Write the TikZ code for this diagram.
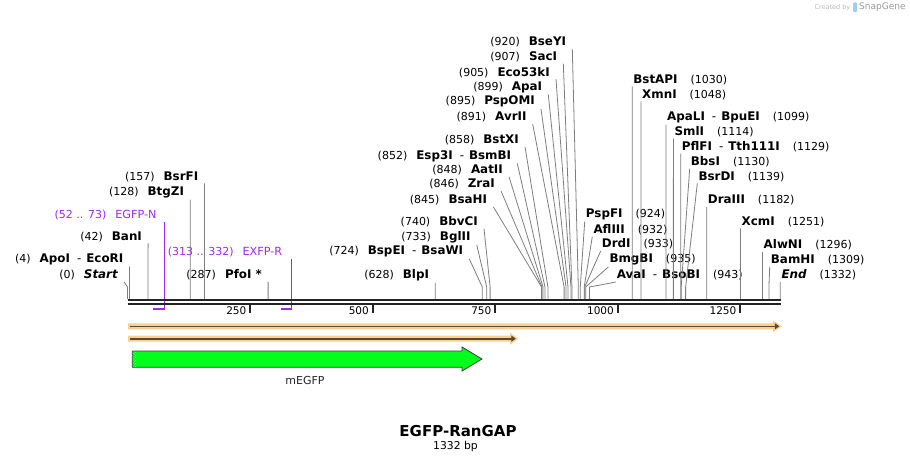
\documentclass[tikz,border=0pt]{standalone}
\usepackage{fontspec}
\setmainfont{DejaVu Sans}
\usepackage{xcolor}
\usepackage{tikz}
\usetikzlibrary{calc, arrows.meta}

\definecolor{cutgray}{RGB}{125,125,125}
\definecolor{primerc}{RGB}{160,40,240}
\definecolor{rulerc}{RGB}{35,35,35}
\definecolor{featband}{RGB}{252,208,140}
\definecolor{featline}{RGB}{88,74,56}
\definecolor{egfpgreen}{RGB}{0,255,26}
\definecolor{featborder}{RGB}{60,60,60}
\definecolor{logoblue}{RGB}{160,205,235}

\newcommand{\cutname}[1]{{\fontsize{11.9}{13}\selectfont\bfseries #1}}
\newcommand{\cutpos}[1]{{\fontsize{11}{13}\selectfont(#1)}}
\newcommand{\cutsep}{\hspace{7pt}{\mdseries -}\hspace{5pt}}

\begin{document}
\begin{tikzpicture}[x=1pt, y=-1pt,
		cutl/.style={anchor=east, inner xsep=6pt, inner ysep=1.5pt},
		cutr/.style={anchor=west, inner xsep=1pt, inner ysep=1.5pt},
		cutline/.style={draw=cutgray, line width=0.8pt},
		primer/.style={draw=primerc, line width=1.3pt},
		primerlbl/.style={anchor=east, inner ysep=1.5pt, text=primerc}]
	\useasboundingbox (0,0) rectangle (910,462);

	% cut sites, labels on the left
	\foreach \p/\lx/\yl/\nam [count=\i] in {0/124/275/{\itshape Start}, 4/129.5/259.3/ApoI\cutsep EcoRI,
		42/148.1/236.7/BanI, 128/190.2/192.3/BtgZI, 157/204.4/176.7/BsrFI, 287/268.1/275/PfoI *,
		628/435.2/275.5/BlpI, 724/469.3/251.7/BspEI\cutsep BsaWI, 733/476.7/237.3/BglII,
		740/484/221.7/BbvCI, 845/493.3/200/BsaHI, 846/501/184.3/ZraI, 848/509/170/AatII,
		852/517.3/156/Esp3I\cutsep BsmBI, 858/525/140/BstXI, 891/532.7/117.3/AvrII,
		895/541/101.7/PspOMI, 899/548.3/87.3/ApaI, 905/556/72.3/Eco53kI, 907/563.3/56.7/SacI,
		920/572.3/42.3/BseYI}
	{
		\pgfmathsetmacro{\sx}{127.5+0.49*\p}
		\node [cutl] (cl\i) at (\lx,\yl) {\cutpos{\p}\hspace{9pt}\cutname{\nam}};
		\coordinate (sl\i) at (\sx,299);
		\draw [cutline] (cl\i.south east) -- (\sx,287) -- (sl\i);
	}

	% cut sites, labels on the right
	\foreach \p/\lx/\yl/\nam [count=\i] in {924/584.7/214.3/PspFI, 932/592.3/229.7/AflIII,
		933/600.7/244/DrdI, 935/608.3/259.7/BmgBI, 943/615.7/275.3/AvaI\cutsep BsoBI,
		1030/632.2/79.5/BstAPI, 1048/641/94.5/XmnI, 1099/666/117.3/ApaLI\cutsep BpuEI,
		1114/673.4/131.7/SmlI, 1129/680.7/146.7/PflFI\cutsep Tth111I, 1130/689.7/161.7/BbsI,
		1139/697.3/176.7/BsrDI, 1182/706.7/200/DraIII, 1251/740.5/221.7/XcmI,
		1296/762.5/245/AlwNI, 1309/769.7/260/BamHI, 1332/780.3/275/{\itshape End}}
	{
		\pgfmathsetmacro{\sx}{127.5+0.49*\p}
		\node [cutr] (cr\i) at (\lx,\yl) {\cutname{\nam}\hspace{13pt}\cutpos{\p}};
		\coordinate (sr\i) at (\sx,299);
		\draw [cutline] (cr\i.south west) -- (\sx,287) -- (sr\i);
	}

	% primers
	\node [primerlbl, inner xsep=7.6pt] (egfpn) at (164.3,215) {\cutpos{52 .. 73}\hspace{9pt}{\fontsize{11.2}{13}\selectfont EGFP-N}};
	\node [primerlbl, inner xsep=9pt] (exfpr) at (291.3,252.3) {\cutpos{313 .. 332}\hspace{9pt}{\fontsize{11.2}{13}\selectfont EXFP-R}};
	\coordinate (pn) at (153,309);
	\coordinate (pr) at (281,309);
	\draw [primer] (egfpn.south east) |- (pn);
	\draw [primer] (exfpr.south east) |- (pr);

	% ruler
	\draw [rulerc, line width=2pt] (127.5,300) -- (781,300);
	\draw [rulerc, line width=2pt] (127.5,304) -- (781,304);
	\foreach \t in {250,500,...,1250}
	{
		\pgfmathsetmacro{\tx}{127.5+0.49*\t}
		\draw [rulerc, line width=2pt] (\tx,305) -- (\tx,312.5);
		\node [anchor=east, inner sep=1pt, font=\fontsize{10.5}{12}\selectfont] (tk\t) at (\tx-2.5,311) {\t};
	}

	% features
	\fill [featband] (128,323.3) -- (773,323.3) -- (773,320.3) -- (781.7,326.3) -- (773,332.3) -- (773,329.3) -- (128,329.3) -- cycle;
	\fill [featband] (128,335.7) -- (510,335.7) -- (510,332.7) -- (518.3,338.7) -- (510,344.7) -- (510,341.7) -- (128,341.7) -- cycle;
	\begin{scope}[featline, line width=1.6pt, -{Triangle[length=4.5pt, width=6pt]}]
		\draw (130,326.3) -- (779.3,326.3);
		\draw (130,338.7) -- (515.8,338.7);
	\end{scope}

	\draw [featborder, fill=egfpgreen, line width=0.8pt] (132.3,351) -- (462,351) -- (462,347) -- (482,359) -- (462,371) -- (462,367.3) -- (132.3,367.3) -- cycle;
	\draw [white, dotted, line width=0.7pt] (135.3,352) -- (135.3,366.5);
	\node [font=\fontsize{11}{13}\selectfont, text=black!85] (megfp) at (305,380.5) {mEGFP};

	% title
	\node [font=\fontsize{15}{17}\selectfont\bfseries] (title) at (458,431) {EGFP-RanGAP};
	\node [font=\fontsize{10.8}{12}\selectfont] (size) at (455.5,446.5) {1332 bp};

	\node [anchor=east, inner sep=0pt, text=black!28, font=\fontsize{6.5}{7}\selectfont] (wmc) at (850.5,7.5) {Created by};
	\fill [logoblue, rounded corners=1pt] (853,2.5) rectangle (857,12);
	\node [anchor=west, inner sep=0pt, text=black!40, font=\fontsize{9}{10}\selectfont] (wms) at (859,7.5) {SnapGene};
\end{tikzpicture}
\end{document}
